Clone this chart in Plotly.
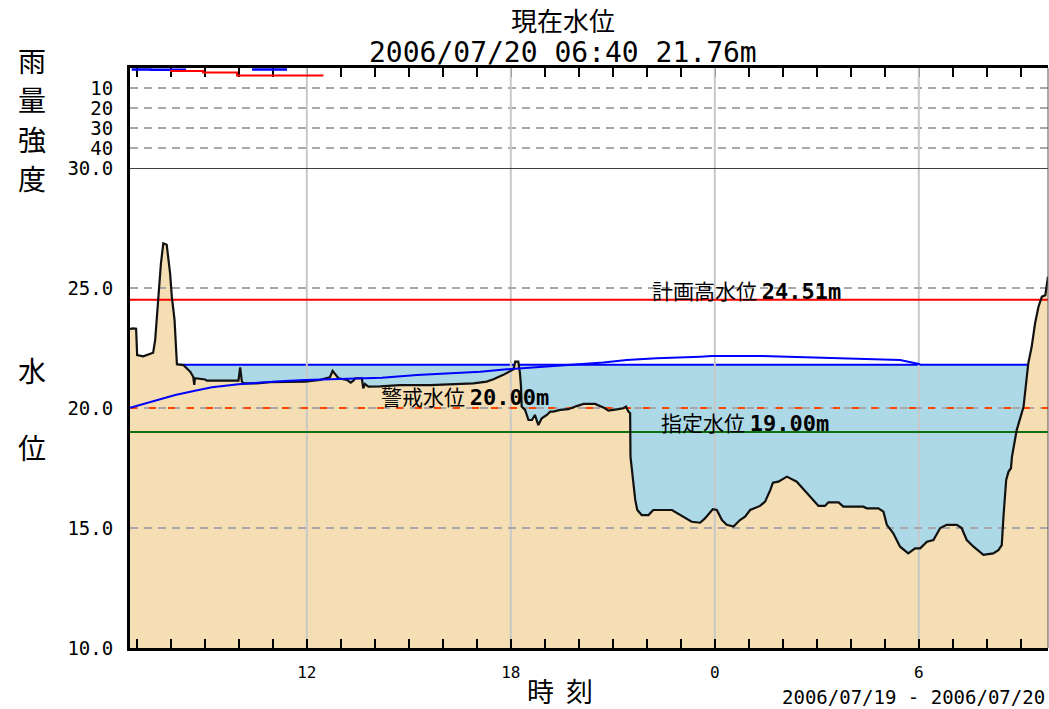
import plotly.graph_objects as go

# ---------------- data ----------------
# time in hours counted from 2006/07/19 00:00
x_start, x_end = 6.8, 33.8
hour_ticks = [12, 18, 24, 30]
hour_labels = ["12", "18", "0", "6"]

water_hours = [6.80, 6.89, 6.98, 7.01, 7.19, 7.39, 7.48, 7.54, 7.59, 7.64,
               7.71, 7.78, 7.88, 7.98, 8.03, 8.11, 8.16, 8.18, 8.37, 8.47,
               8.57, 8.66, 8.69, 8.71, 9.01, 9.06, 9.99, 10.04, 10.09, 10.14,
               10.53, 10.92, 11.51, 11.95, 12.39, 12.68, 12.76, 12.83, 12.93, 13.18,
               13.29, 13.37, 13.42, 13.62, 13.66, 13.71, 13.81, 14.16, 14.74, 15.63,
               16.36, 16.90, 17.29, 17.49, 17.78, 17.93, 18.08, 18.13, 18.22, 18.27,
               18.30, 18.32, 18.42, 18.52, 18.62, 18.71, 18.81, 18.91, 19.06, 19.16,
               19.25, 19.45, 19.69, 19.94, 20.14, 20.48, 20.63, 20.77, 20.87, 20.97,
               21.16, 21.31, 21.39, 21.46, 21.51, 21.52, 21.59, 21.66, 21.72, 21.85,
               22.05, 22.19, 22.74, 22.99, 23.32, 23.57, 23.71, 23.94, 24.06, 24.21,
               24.35, 24.55, 24.74, 24.89, 25.04, 25.33, 25.48, 25.63, 25.71, 25.87,
               26.12, 26.41, 26.71, 27.05, 27.24, 27.34, 27.64, 27.78, 28.37, 28.47,
               28.81, 28.96, 29.06, 29.25, 29.45, 29.69, 29.89, 30.04, 30.24, 30.43,
               30.63, 30.82, 31.12, 31.26, 31.41, 31.61, 31.90, 32.19, 32.34, 32.44,
               32.49, 32.57, 32.64, 32.71, 32.74, 32.83, 32.88, 33.08, 33.18, 33.22,
               33.32, 33.42, 33.52, 33.62, 33.72, 33.77, 33.80]
water_level = [23.30, 23.32, 23.30, 22.20, 22.15, 22.25, 22.30, 22.83, 23.80, 24.80,
               26.03, 26.86, 26.80, 25.60, 24.64, 23.67, 22.42, 21.82, 21.79, 21.65,
               21.51, 21.30, 20.96, 21.24, 21.19, 21.14, 21.14, 21.69, 21.10, 21.03,
               21.03, 21.08, 21.10, 21.10, 21.17, 21.28, 21.55, 21.44, 21.24, 21.17,
               21.06, 21.14, 21.24, 21.24, 20.82, 21.00, 20.89, 20.90, 20.95, 20.95,
               21.00, 21.03, 21.10, 21.20, 21.38, 21.51, 21.61, 21.93, 21.93, 21.44,
               20.89, 20.06, 19.92, 19.50, 19.50, 19.71, 19.29, 19.57, 19.71, 19.85,
               19.85, 19.92, 19.95, 20.08, 20.17, 20.17, 20.08, 19.99, 19.89, 19.92,
               19.95, 19.99, 20.06, 19.85, 19.78, 17.97, 17.00, 16.17, 15.75, 15.54,
               15.54, 15.75, 15.75, 15.54, 15.26, 15.22, 15.40, 15.78, 15.75, 15.33,
               15.13, 15.06, 15.33, 15.47, 15.75, 15.92, 16.10, 16.58, 16.89, 16.93,
               17.14, 16.93, 16.44, 15.92, 15.92, 16.07, 16.07, 15.89, 15.89, 15.82,
               15.82, 15.68, 15.13, 14.78, 14.22, 13.94, 14.15, 14.15, 14.43, 14.50,
               15.00, 15.13, 15.13, 15.00, 14.50, 14.22, 13.88, 13.94, 14.08, 14.29,
               15.47, 17.00, 17.35, 17.49, 17.97, 18.60, 19.08, 20.05, 21.30, 21.86,
               22.55, 23.53, 24.22, 24.64, 24.70, 25.33, 25.47]

curve_hours = [6.80, 7.09, 7.64, 8.13, 8.71, 9.21, 9.99, 10.58, 11.36, 11.95,
               13.37, 14.21, 15.24, 16.12, 17.10, 17.88, 18.27, 19.06, 20.04, 20.72,
               21.41, 22.29, 23.57, 23.92, 25.33, 26.51, 27.98, 29.45, 30.04]
curve_level = [20.01, 20.13, 20.36, 20.54, 20.72, 20.86, 20.99, 21.06, 21.13, 21.17,
               21.21, 21.26, 21.38, 21.44, 21.51, 21.61, 21.65, 21.75, 21.82, 21.90,
               22.00, 22.07, 22.14, 22.17, 22.17, 22.12, 22.08, 22.00, 21.82]

upper_level = 21.80
plan_high = 24.51
warning_level = 20.00
designated_level = 19.00
frame_top = 30.0

water_ticks = [10, 15, 20, 25, 30]
water_tick_labels = ["10.0", "15.0", "20.0", "25.0", "30.0"]
water_grid = [15, 20, 25]
rain_ticks = [10, 20, 30, 40]
rain_tick_labels = ["10", "20", "30", "40"]
rain_range = [50, 0]
water_range = [10, 30]

rain_blue_hours = [6.85, 7.42, 8.45, None, 10.39, 11.42]
rain_blue = [0.7, 0.9, 0.9, None, 0.7, 0.7]
rain_red_hours = [7.98, 8.95, 9.95, 12.49]
rain_red = [1.5, 2.3, 3.8, 3.8]

title_1 = "現在水位"
title_2 = "2006/07/20 06:40 21.76m"
rain_title = "雨量強度"
water_title = "水位"
time_title = "時&nbsp;&nbsp;刻"
date_range = "2006/07/19 - 2006/07/20"

# ---------------- style ----------------
JP = "Noto Sans CJK JP"
MONO = "DejaVu Sans Mono"
W, H = 1049, 709
L, R, T, B = 130, 1, 68, 61
PW, PH = W - L - R, H - T - B
split = 480 / 580

def px(xp, yp):
    return (xp - L) / PW, (H - B - yp) / PH

fig = go.Figure()

def seg_lines(vals, lo, hi, vertical):
    xs, ys = [], []
    for v in vals:
        if vertical:
            xs += [v, v, None]; ys += [lo, hi, None]
        else:
            xs += [lo, hi, None]; ys += [v, v, None]
    return xs, ys

# rain panel grid
gx, gy = seg_lines(rain_ticks, x_start, x_end, False)
fig.add_trace(go.Scatter(x=gx, y=gy, mode="lines", xaxis="x2", yaxis="y2",
                         line=dict(color="#A8A8A8", width=2, dash="8px,6px"), hoverinfo="skip"))
gx, gy = seg_lines(hour_ticks, rain_range[0], rain_range[1], True)
fig.add_trace(go.Scatter(x=gx, y=gy, mode="lines", xaxis="x2", yaxis="y2",
                         line=dict(color="#C8C8C8", width=2), hoverinfo="skip"))
# rain lines
fig.add_trace(go.Scatter(x=rain_blue_hours, y=rain_blue, mode="lines", xaxis="x2", yaxis="y2",
                         line=dict(color="#0000FF", width=2.5, shape="hv"), hoverinfo="skip"))
fig.add_trace(go.Scatter(x=rain_red_hours, y=rain_red, mode="lines", xaxis="x2", yaxis="y2",
                         line=dict(color="#FF0000", width=2, shape="hv"), hoverinfo="skip"))

# water panel: light blue area under upper level
fig.add_trace(go.Scatter(x=[x_start, x_end], y=[upper_level, upper_level], mode="lines",
                         fill="tozeroy", fillcolor="#ADD8E6",
                         line=dict(color="#0000FF", width=2), hoverinfo="skip"))
# tan area under water level
fig.add_trace(go.Scatter(x=water_hours, y=water_level, mode="lines", fill="tozeroy",
                         fillcolor="#F5DEB3", line=dict(width=0), hoverinfo="skip"))
# vertical grid
gx, gy = seg_lines(hour_ticks, water_range[0], water_range[1], True)
fig.add_trace(go.Scatter(x=gx, y=gy, mode="lines", line=dict(color="#C8C8C8", width=2),
                         hoverinfo="skip"))
# horizontal dashed grid
gx, gy = seg_lines(water_grid, x_start, x_end, False)
fig.add_trace(go.Scatter(x=gx, y=gy, mode="lines",
                         line=dict(color="#A8A8A8", width=2, dash="8px,6px"), hoverinfo="skip"))
# reference levels
fig.add_trace(go.Scatter(x=[x_start, x_end], y=[plan_high, plan_high], mode="lines",
                         line=dict(color="#FF0000", width=2), hoverinfo="skip"))
fig.add_trace(go.Scatter(x=[x_start, x_end], y=[warning_level, warning_level], mode="lines",
                         line=dict(color="#FF4500", width=2, dash="7px,12px"), hoverinfo="skip"))
fig.add_trace(go.Scatter(x=[x_start, x_end], y=[designated_level, designated_level], mode="lines",
                         line=dict(color="#107010", width=2), hoverinfo="skip"))
# water level line
fig.add_trace(go.Scatter(x=water_hours, y=water_level, mode="lines",
                         line=dict(color="#111111", width=2.2), hoverinfo="skip"))
# blue curve
fig.add_trace(go.Scatter(x=curve_hours, y=curve_level, mode="lines",
                         line=dict(color="#0000FF", width=2), hoverinfo="skip"))

axis_common = dict(showline=True, linecolor="black", linewidth=3, zeroline=False, showgrid=False)

fig.update_layout(
    width=W, height=H, margin=dict(l=L, r=R, t=T, b=B),
    paper_bgcolor="white", plot_bgcolor="white", showlegend=False,
    xaxis=dict(range=[x_start, x_end], tickmode="array", tickvals=hour_ticks, ticktext=hour_labels,
               ticks="inside", ticklen=9, tickwidth=1.5, tickcolor="black",
               minor=dict(ticks="inside", ticklen=9, tickwidth=1.5, tickcolor="black",
                          tickmode="linear", tick0=0, dtick=1, showgrid=False),
               tickfont=dict(family=MONO, size=16, color="black"), ticklabelstandoff=8,
               anchor="y", **axis_common),
    xaxis2=dict(range=[x_start, x_end], matches="x", anchor="y2", side="top",
                tickmode="array", tickvals=hour_ticks, showticklabels=False,
                ticks="inside", ticklen=9, tickwidth=1.5, tickcolor="black",
                minor=dict(ticks="inside", ticklen=9, tickwidth=1.5, tickcolor="black",
                           tickmode="linear", tick0=0, dtick=1, showgrid=False),
                layer="below traces", **axis_common),
    yaxis=dict(domain=[0, split], range=water_range, tickmode="array", tickvals=water_ticks,
               ticktext=water_tick_labels, ticks="", anchor="x",
               tickfont=dict(family=MONO, size=19, color="black"), ticklabelstandoff=10,
               **axis_common),
    yaxis2=dict(domain=[split, 1], range=rain_range, tickmode="array", tickvals=rain_ticks,
                ticktext=rain_tick_labels, ticks="", anchor="x2",
                tickfont=dict(family=MONO, size=19, color="black"), ticklabelstandoff=10,
                **axis_common),
)

# frame pieces
fig.add_shape(type="line", xref="paper", yref="y", x0=0, x1=1, y0=frame_top, y1=frame_top,
              line=dict(color="black", width=1.5), layer="above")
fig.add_shape(type="line", xref="paper", yref="paper", x0=1, x1=1, y0=0, y1=1,
              line=dict(color="#555555", width=1), layer="above")

ann = []
def text(xp, yp, s, size, family=JP, xanchor="center", weight="normal"):
    xx, yy = px(xp, yp)
    ann.append(dict(x=xx, y=yy, xref="paper", yref="paper", text=s, showarrow=False,
                    xanchor=xanchor, yanchor="middle",
                    font=dict(family=family, size=size, color="black", weight=weight)))

text(563, 19, title_1, 26)
text(563, 53, title_2, 28, family=MONO)
for i, ch in enumerate(rain_title):
    text(32, 60 + i * 39.3, ch, 28)
text(32, 370, water_title[0], 28)
text(32, 447, water_title[1], 28)
text(560, 690, time_title, 27)
text(1047, 697, date_range, 19, family=MONO, xanchor="right")

def level_label(xh, level, jp, num, yshift):
    ann.append(dict(x=xh, y=level, xref="x", yref="y", showarrow=False, xanchor="center",
                    yanchor="middle", yshift=yshift,
                    text=f"{jp} <span style='font-family:{MONO};font-weight:bold;font-size:22px'>{num}</span>",
                    font=dict(family=JP, size=21, color="black")))

level_label(24.93, plan_high, "計画高水位", f"{plan_high:.2f}m", 10)
level_label(16.66, warning_level, "警戒水位", f"{warning_level:.2f}m", 12)
level_label(24.90, designated_level, "指定水位", f"{designated_level:.2f}m", 10)

fig.update_layout(annotations=ann)
fig.write_html("out.html", config={"displayModeBar": False},
               post_script="document.body.style.margin='0';document.body.style.padding='0';")
